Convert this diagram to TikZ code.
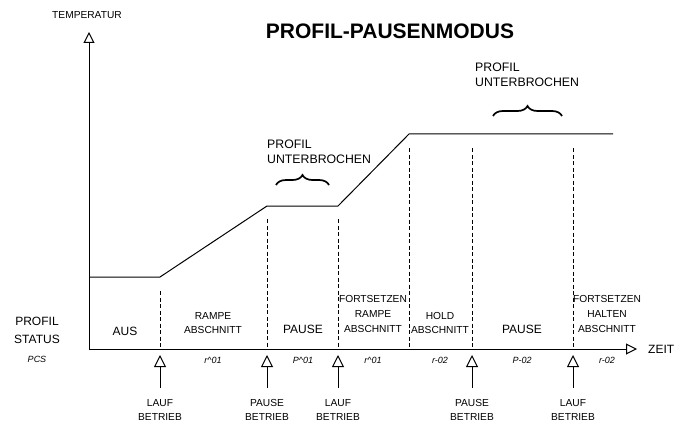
\documentclass[tikz,border=0pt]{standalone}
\usepackage{fontspec}
\setmainfont{Liberation Sans}
\usetikzlibrary{positioning,arrows.meta,decorations.pathreplacing}

\begin{document}
\begin{tikzpicture}[x=1pt, y=-1pt,
    every node/.style={font=\fontsize{10.2}{14.8}\selectfont, align=center,
                       inner sep=0pt},
    big/.style={font=\fontsize{12}{18}\selectfont},
    ttl/.style={font=\fontsize{21}{24}\selectfont\bfseries},
    code/.style={font=\fontsize{9}{10}\selectfont\itshape},
    note/.style={font=\fontsize{12.3}{14.5}\selectfont, align=left},
    axis/.style={line width=1pt, -{Triangle[open, length=11pt, width=11pt]}},
    evt/.style={line width=1pt, -{Triangle[open, length=12pt, width=12pt]}},
    cut/.style={line width=0.9pt, dash pattern=on 4pt off 2.5pt},
    prof/.style={line width=1pt},
    brc/.style={decorate, decoration={brace, amplitude=10pt}, line width=1.7pt}]
  \useasboundingbox (0,0) rectangle (685,425);
  % axes
  \coordinate (o)    at (89,349);
  \coordinate (ytip) at (89,32);
  \coordinate (xtip) at (637,349);
  \draw[axis] (o) -- (ytip);
  \draw[axis] (o) -- (xtip);
  \node (temp) at (87,15) {TEMPERATUR};
  \node[big, anchor=west] (zeit) at (648,349) {ZEIT};
  \node[ttl] (title) at (390,31) {PROFIL-PAUSENMODUS};
  % profile curve
  \coordinate (p0) at (89,277);
  \coordinate (p1) at (160,277);
  \coordinate (p2) at (267,206);
  \coordinate (p3) at (338,206);
  \coordinate (p4) at (409,134);
  \coordinate (p5) at (613,134);
  \draw[prof] (p0) -- (p1) -- (p2) -- (p3) -- (p4) -- (p5);
  % section boundaries
  \coordinate (c1) at (160,291);
  \coordinate (c2) at (267,219);
  \coordinate (c3) at (338,219);
  \coordinate (c4) at (409,148);
  \coordinate (c5) at (472,148);
  \coordinate (c6) at (573,148);
  \draw[cut] (c1) -- (c1 |- o);
  \draw[cut] (c2) -- (c2 |- o);
  \draw[cut] (c3) -- (c3 |- o);
  \draw[cut] (c4) -- (c4 |- o);
  \draw[cut] (c5) -- (c5 |- o);
  \draw[cut] (c6) -- (c6 |- o);
  % status row
  \node[big] (status) at (37,330) {PROFIL\\STATUS};
  \node[code] (pcs) at (37,359) {PCS};
  \node[big] (aus) at (125,331) {AUS};
  \node (ramp1) at (213,323) {RAMPE\\ABSCHNITT};
  \node[big] (pause1) at (303,329) {PAUSE};
  \node (ramp2) at (373,314) {FORTSETZEN\\RAMPE\\ABSCHNITT};
  \node (hold) at (440,323) {HOLD\\ABSCHNITT};
  \node[big] (pause2) at (522,329) {PAUSE};
  \node (hold2) at (607,314) {FORTSETZEN\\HALTEN\\ABSCHNITT};
  \node[code] (s1) at (213,360) {r\textasciicircum01};
  \node[code] (s2) at (303,360) {P\textasciicircum01};
  \node[code] (s3) at (373,360) {r\textasciicircum01};
  \node[code] (s4) at (440,360) {r-02};
  \node[code] (s5) at (522,360) {P-02};
  \node[code] (s6) at (607,360) {r-02};
  % operator events
  \node (e1) at (160,410) {LAUF\\BETRIEB};
  \node (e2) at (267,410) {PAUSE\\BETRIEB};
  \node (e3) at (338,410) {LAUF\\BETRIEB};
  \node (e4) at (472,410) {PAUSE\\BETRIEB};
  \node (e5) at (573,410) {LAUF\\BETRIEB};
  \draw[evt] (160,388) -- (160,355);
  \draw[evt] (267,388) -- (267,355);
  \draw[evt] (338,388) -- (338,355);
  \draw[evt] (472,388) -- (472,355);
  \draw[evt] (573,388) -- (573,355);
  % interrupted marks
  \node[note, anchor=west] (int1) at (267,152) {PROFIL\\UNTERBROCHEN};
  \node[note, anchor=west] (int2) at (475,75) {PROFIL\\UNTERBROCHEN};
  \draw[brc] (276,185) -- (329,185);
  \draw[brc] (493,116) -- (562,116);
\end{tikzpicture}
\end{document}
